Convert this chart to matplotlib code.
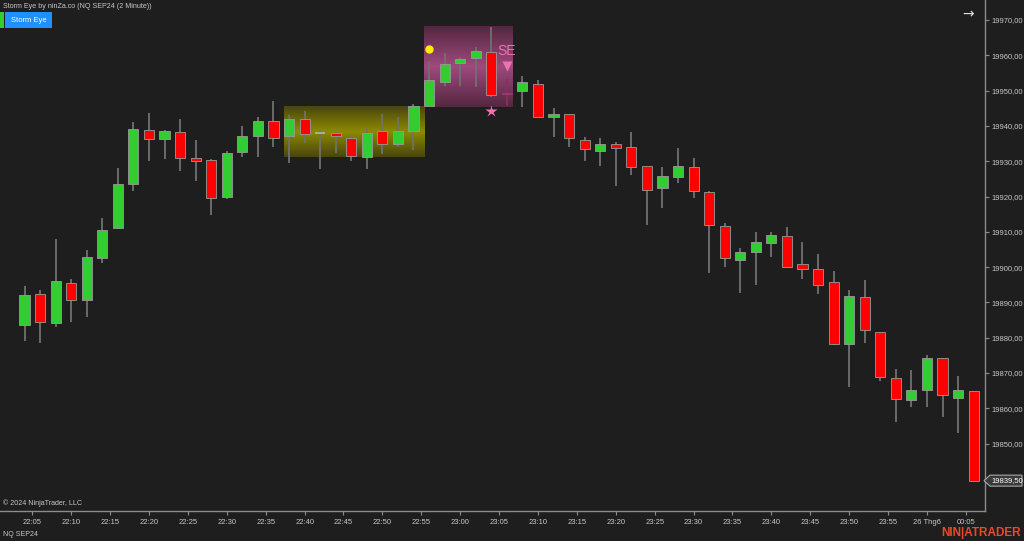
import matplotlib
matplotlib.use("Agg")
import matplotlib.pyplot as plt
import matplotlib.transforms as mtransforms
from matplotlib.patches import Polygon, Rectangle
import numpy as np

# ---------------- data ----------------
times = ["22:04", "22:06", "22:08", "22:10", "22:12", "22:14", "22:16", "22:18", "22:20", "22:22",
         "22:24", "22:26", "22:28", "22:30", "22:32", "22:34", "22:36", "22:38", "22:40", "22:42",
         "22:44", "22:46", "22:48", "22:50", "22:52", "22:54", "22:56", "22:58", "23:00", "23:02",
         "23:04", "23:06", "23:08", "23:10", "23:12", "23:14", "23:16", "23:18", "23:20", "23:22",
         "23:24", "23:26", "23:28", "23:30", "23:32", "23:34", "23:36", "23:38", "23:40", "23:42",
         "23:44", "23:46", "23:48", "23:50", "23:52", "23:54", "23:56", "23:58", "00:00", "00:02",
         "00:04", "00:06"]
opens = [19883.5, 19892.5, 19884.25, 19895.5, 19890.75, 19902.5, 19911.0, 19923.5, 19938.75, 19936.25,
         19938.25, 19931.0, 19930.25, 19919.75, 19932.5, 19937.0, 19941.5, 19937.0, 19942.0, 19938.0,
         19938.0, 19936.5, 19931.25, 19938.5, 19935.0, 19938.5, 19945.5, 19952.5, 19957.75, 19959.25,
         19961.0, 19949.25, 19950.0, 19952.0, 19942.5, 19943.25, 19936.0, 19933.0, 19934.75, 19934.0,
         19928.5, 19922.5, 19925.5, 19928.25, 19921.25, 19911.75, 19902.0, 19904.25, 19906.75, 19908.75,
         19900.75, 19899.5, 19895.75, 19878.25, 19891.5, 19881.75, 19868.5, 19862.25, 19865.25, 19874.25,
         19863.0, 19865.0]
highs = [19894.75, 19893.5, 19908.0, 19896.5, 19904.75, 19914.0, 19928.0, 19941.0, 19943.75, 19938.75,
         19942.0, 19936.0, 19930.5, 19932.75, 19940.0, 19942.5, 19947.0, 19943.0, 19944.25, 19938.5,
         19938.25, 19937.0, 19939.5, 19943.25, 19942.5, 19946.25, 19958.5, 19960.75, 19959.5, 19962.25,
         19968.0, 19953.25, 19954.0, 19953.0, 19945.0, 19943.25, 19936.75, 19936.5, 19935.5, 19938.25,
         19928.5, 19928.25, 19933.75, 19931.0, 19921.5, 19912.5, 19905.5, 19910.0, 19910.0, 19911.25,
         19907.25, 19903.75, 19899.0, 19893.5, 19896.25, 19881.75, 19871.0, 19870.75, 19875.0, 19874.25,
         19869.25, 19865.0]
lows = [19879.0, 19878.5, 19883.0, 19884.5, 19885.75, 19901.25, 19910.75, 19921.5, 19930.0, 19930.75,
        19927.25, 19924.25, 19914.75, 19919.25, 19931.25, 19931.25, 19934.0, 19929.5, 19935.25, 19927.75,
        19932.25, 19930.0, 19927.75, 19932.0, 19934.0, 19933.25, 19945.5, 19951.25, 19951.25, 19951.0,
        19948.25, 19945.5, 19945.25, 19942.5, 19936.75, 19934.0, 19930.0, 19928.5, 19923.0, 19926.0,
        19912.0, 19916.75, 19923.75, 19919.5, 19898.25, 19900.0, 19892.75, 19895.0, 19903.0, 19900.0,
        19896.75, 19892.25, 19878.0, 19866.0, 19878.5, 19867.75, 19856.0, 19860.25, 19860.25, 19857.5,
        19853.0, 19839.25]
closes = [19892.0, 19884.5, 19896.0, 19890.75, 19902.75, 19910.5, 19923.5, 19939.25, 19936.25, 19938.5,
          19931.0, 19930.0, 19919.5, 19932.25, 19937.0, 19941.5, 19936.5, 19942.0, 19937.75, 19938.0,
          19937.0, 19931.5, 19938.0, 19935.0, 19938.5, 19945.5, 19953.0, 19957.5, 19959.0, 19961.25,
          19948.75, 19949.0, 19952.5, 19942.5, 19943.5, 19936.5, 19933.5, 19934.75, 19933.75, 19928.25,
          19921.75, 19925.75, 19928.5, 19921.5, 19912.0, 19902.5, 19904.25, 19907.0, 19909.0, 19900.0,
          19899.5, 19895.0, 19878.25, 19891.75, 19882.25, 19869.0, 19862.5, 19865.25, 19874.25, 19863.75,
          19865.25, 19839.5]

# Storm Eye zones (bar index range, price range)
zone1_bars = (16.7, 25.7)
zone1_prices = (19931.25, 19945.5)
zone2_bars = (25.7, 31.4)
zone2_prices = (19945.25, 19968.0)
faded_bar = 31                     # bar recolored by the indicator
dot_bar, dot_price = 26, 19961.9
star_bar, star_price = 30, 19944.3
se_bar, se_price, se_arrow_price = 31, 19961.3, 19957.0
last_price = 19839.5

tick_positions = [0.5 + 2.5 * k for k in range(23)] + [58, 60.5]
tick_labels = ["22:05", "22:10", "22:15", "22:20", "22:25", "22:30", "22:35", "22:40", "22:45", "22:50",
               "22:55", "23:00", "23:05", "23:10", "23:15", "23:20", "23:25", "23:30", "23:35", "23:40",
               "23:45", "23:50", "23:55", "26 Thg6", "00:05"]
price_ticks = [19850, 19860, 19870, 19880, 19890, 19900, 19910, 19920, 19930, 19940, 19950, 19960, 19970]

# ---------------- style ----------------
BG = "#1e1e1e"
GREEN = "#32cd32"
RED = "#ff0000"
WICK = "#707070"
OUTLINE = "#9a9a9a"
TXT = "#c8c8c8"
AXC = "#8c8c8c"
FONT = ["Liberation Sans", "DejaVu Sans"]
plt.rcParams["font.family"] = FONT

fig = plt.figure(figsize=(10.24, 5.41), dpi=100, facecolor=BG)
ax = fig.add_axes([0, 30 / 541, 985 / 1024, 511 / 541], facecolor=BG)

x = np.arange(len(opens))
o = np.array(opens); c = np.array(closes); h = np.array(highs); l = np.array(lows)


def grad_zone(bars, prices, edge, mid):
    n = 64
    t = np.abs(np.linspace(-1, 1, n))[:, None]
    e = np.array(matplotlib.colors.to_rgb(edge)); m = np.array(matplotlib.colors.to_rgb(mid))
    img = (t[..., None] * e + (1 - t[..., None]) * m)
    img = np.repeat(img, 2, axis=1)
    ax.imshow(img, extent=(bars[0], bars[1], prices[0], prices[1]), aspect="auto",
              origin="lower", zorder=1, interpolation="bilinear")


grad_zone(zone1_bars, zone1_prices, "#4a4610", "#8c8a00")
grad_zone(zone2_bars, zone2_prices, "#55273f", "#9e4a7e")

# candles
W = 0.65
for i in range(len(o)):
    if i == faded_bar:
        wc, fc, ec = "#8a2e62", "#7a2855", "#a03a72"
    else:
        wc = WICK
        fc = GREEN if c[i] >= o[i] else RED
        ec = OUTLINE
    ax.vlines(x[i], l[i], h[i], color=wc, lw=1.3, zorder=2)
    if abs(c[i] - o[i]) < 0.01:
        ax.hlines(o[i], x[i] - W / 2, x[i] + W / 2, color="#b4b4b4" if i != faded_bar else ec,
                  lw=1.2, zorder=3)
    else:
        ax.bar(x[i], abs(c[i] - o[i]), bottom=min(o[i], c[i]), width=W, color=fc,
               edgecolor=ec, linewidth=0.6, zorder=3)

# markers
ax.plot([dot_bar], [dot_price], "o", color="#ffee00", ms=5, zorder=5)
ax.plot([star_bar], [star_price], "*", color="#ff6eb4", ms=9, zorder=5, mec="none")
ax.plot([se_bar], [se_arrow_price], "v", color="#f070b0", ms=7, zorder=5, mec="none")
ax.text(se_bar, se_price, "SE", color="#f070b0", fontsize=10, ha="center", va="center", zorder=5)

# axes
ax.set_xlim(-1.575, 61.73)
ax.set_ylim(19830.9, 19975.67)
for s in ["top", "left"]:
    ax.spines[s].set_visible(False)
for s in ["bottom", "right"]:
    ax.spines[s].set_color(AXC)
    ax.spines[s].set_linewidth(1.0)
ax.yaxis.tick_right()
ax.set_yticks(price_ticks)
ax.set_yticklabels([f"{p:.2f}".replace(".", ",") for p in price_ticks])
ax.set_xticks(tick_positions)
ax.set_xticklabels(tick_labels)
ax.tick_params(axis="both", colors=AXC, labelcolor=TXT, labelsize=5.5, length=3, width=0.8)
ax.tick_params(axis="x", pad=3)
ax.tick_params(axis="y", pad=2)

# last price label (pointed box at the right axis)
trans = mtransforms.blended_transform_factory(ax.transAxes, ax.transData)
anchor = fig.dpi_scale_trans + mtransforms.ScaledTranslation(1.0, last_price, trans)
verts = np.array([[-1, 0], [5, 5.5], [37, 5.5], [37, -5.5], [5, -5.5]]) / 100.0
fig.patches.append(Polygon(verts, closed=True, transform=anchor, fc="#3a3a3a", ec="#a8a8a8", lw=0.8))
fig.text(6 / 100.0, 0, f"{last_price:.2f}".replace(".", ","), transform=anchor, color="#ffffff",
         fontsize=5.5, va="center", ha="left")

# header texts
fig.text(3 / 1024, 1 - 7 / 541, "Storm Eye by ninZa.co (NQ SEP24 (2 Minute))", color=TXT,
         fontsize=5.1, va="center", ha="left")
fig.patches.append(Rectangle((0, 1 - 28 / 541), 4 / 1024, 16 / 541,
                             transform=fig.transFigure, fc="#32cd32", ec="none"))
fig.patches.append(Rectangle((5 / 1024, 1 - 28 / 541), 47 / 1024, 16 / 541,
                             transform=fig.transFigure, fc="#1e90ff", ec="none"))
fig.text(28.5 / 1024, 1 - 20 / 541, "Storm Eye", color="#ffffff", fontsize=5.5, va="center", ha="center")
fig.text(968 / 1024, 1 - 14 / 541, "→", color="#e0e0e0", fontsize=10, va="center", ha="center",
         family=["DejaVu Sans"])

# footer texts
fig.text(3 / 1024, 1 - 503 / 541, "© 2024 NinjaTrader, LLC", color=TXT, fontsize=5.1, va="center", ha="left")
fig.text(3 / 1024, 1 - 534 / 541, "NQ SEP24", color=TXT, fontsize=5, va="center", ha="left")
fig.text(1021 / 1024, 1 - 533 / 541, "NIN|ATRADER", color="#ea4a2a", fontsize=8.5, fontweight="bold",
         va="center", ha="right")

fig.savefig("out.png", dpi=100, facecolor=BG)
